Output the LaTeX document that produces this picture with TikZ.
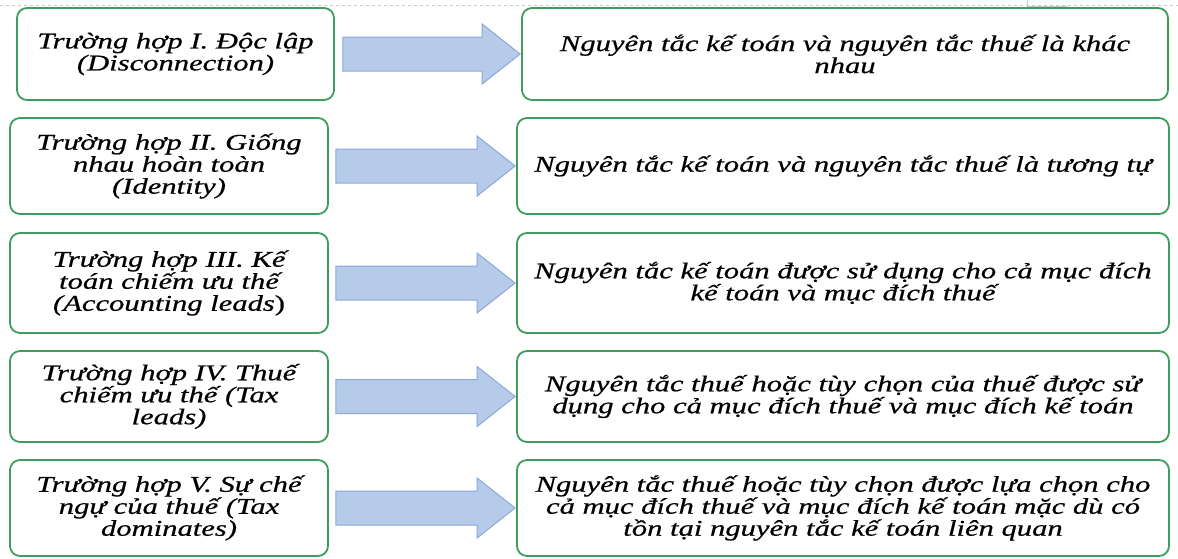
\documentclass[tikz,border=0pt]{standalone}
\usepackage{fontspec}
\setmainfont{Liberation Serif}
% wide, slightly heavy italic serif used for all box texts
\newfontfamily\boxfont[FakeStretch=1.36, FakeBold=0.6]{Liberation Serif}
\usetikzlibrary{calc}

\definecolor{boxgreen}{RGB}{62,156,92}
\definecolor{arrowfill}{RGB}{182,202,234}
\definecolor{arrowedge}{RGB}{140,168,214}
\definecolor{pageline}{RGB}{200,200,200}

\tikzset{
  casebox/.style={draw=boxgreen, line width=1.8pt, rounded corners=10pt,
    fill=white, align=center, inner sep=0pt,
    font=\boxfont\itshape\fontsize{22.5}{22}\selectfont},
  flowarrow/.style={fill=arrowfill, draw=arrowedge, line width=1pt, line join=miter}
}

% block arrow from the right side of #1 to the left side of #2
\newcommand\casearrow[3]{%
  \path[flowarrow] let \p1=(#1.east), \p2=(#2.west) in
    (\x1+#3,\y2+17pt) -- (\x2-39pt,\y2+17pt) -- (\x2-39pt,\y2+30pt) --
    (\x2-1pt,\y2) -- (\x2-39pt,\y2-30pt) -- (\x2-39pt,\y2-17pt) --
    (\x1+#3,\y2-17pt) -- cycle;}

\begin{document}
\begin{tikzpicture}[x=1pt, y=-1pt]
\useasboundingbox (0,0) rectangle (1178,558);

% faint page guides along the top edge
\draw[pageline, dashed, line width=0.6pt] (0,5.5) -- (1178,5.5);
\draw[pageline, line width=0.6pt] (1027,0) -- (1027,6) -- (1068,6);

% left column: the five cases
\node[casebox, minimum width=317pt, minimum height=92pt] (L1) at (175.5,54)
  {Trường hợp I. Độc lập\\(Disconnection)};
\node[casebox, minimum width=318pt, minimum height=96pt] (L2) at (169,166)
  {Trường hợp II. Giống\\nhau hoàn toàn\\(Identity)};
\node[casebox, minimum width=318pt, minimum height=100pt] (L3) at (169,283)
  {Trường hợp III. Kế\\toán chiếm ưu thế\\(Accounting leads{\upshape )}};
\node[casebox, minimum width=318pt, minimum height=91pt] (L4) at (169,396.5)
  {Trường hợp IV. Thuế\\chiếm ưu thế (Tax\\leads)};
\node[casebox, minimum width=318pt, minimum height=96pt] (L5) at (169,508)
  {Trường hợp V. Sự chế\\ngự của thuế (Tax\\dominates)};

% right column: what each case means
\node[casebox, minimum width=646pt, minimum height=92pt] (R1) at (845,54)
  {Nguyên tắc kế toán và nguyên tắc thuế là khác\\nhau};
\node[casebox, minimum width=652pt, minimum height=96pt] (R2) at (843,166)
  {Nguyên tắc kế toán và nguyên tắc thuế là tương tự};
\node[casebox, minimum width=652pt, minimum height=100pt] (R3) at (843,283)
  {Nguyên tắc kế toán được sử dụng cho cả mục đích\\kế toán và mục đích thuế};
\node[casebox, minimum width=652pt, minimum height=91pt] (R4) at (843,396.5)
  {Nguyên tắc thuế hoặc tùy chọn của thuế được sử\\dụng cho cả mục đích thuế và mục đích kế toán};
\node[casebox, minimum width=652pt, minimum height=96pt] (R5) at (843,508)
  {Nguyên tắc thuế hoặc tùy chọn được lựa chọn cho\\cả mục đích thuế và mục đích kế toán mặc dù có\\tồn tại nguyên tắc kế toán liên quan};

% block arrows linking each case to its description
\casearrow{L1}{R1}{8pt}
\casearrow{L2}{R2}{7pt}
\casearrow{L3}{R3}{7pt}
\casearrow{L4}{R4}{7pt}
\casearrow{L5}{R5}{7pt}
\end{tikzpicture}
\end{document}
